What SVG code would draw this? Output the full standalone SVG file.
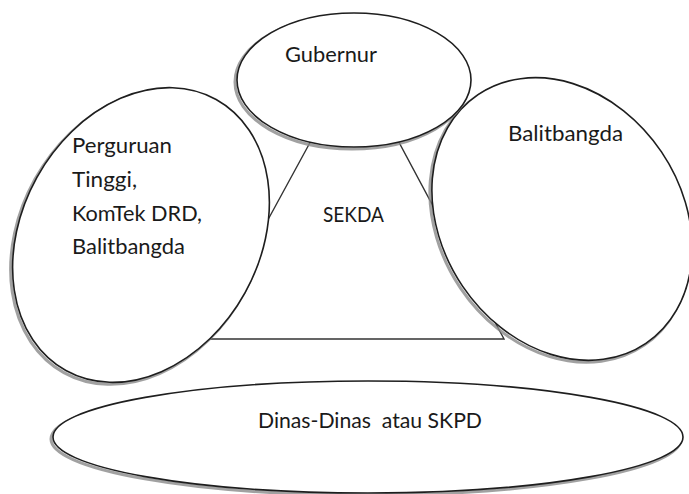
<svg xmlns="http://www.w3.org/2000/svg" width="689" height="494" viewBox="0 0 689 494">
<style>
.shape{fill:#fff;stroke:#1e1e1e;stroke-width:1.6}
.shadow{fill:none;stroke:#8a8a8a;stroke-width:3;opacity:0.8}
.tri{fill:#fff;stroke:#333;stroke-width:1.4}
.lbl{font-family:Lato,"Open Sans","Liberation Sans",sans-serif;font-size:21px;fill:#1a1a1a}
</style>
<rect width="689" height="494" fill="#fff"/>
<g id="sekda">
<polygon class="tri" points="355,60 203,339 504,339"/>
<text class="lbl" x="323" y="222" textLength="61" lengthAdjust="spacingAndGlyphs">SEKDA</text>
</g>
<g id="perguruan">
<ellipse class="shadow" cx="139" cy="237" rx="119" ry="155" transform="rotate(29 139 237)"/>
<ellipse class="shape" cx="141" cy="235" rx="119" ry="155" transform="rotate(29 141 235)"/>
<text class="lbl" x="72" y="153" textLength="100" lengthAdjust="spacingAndGlyphs">Perguruan</text>
<text class="lbl" x="72" y="187" textLength="65" lengthAdjust="spacingAndGlyphs">Tinggi,</text>
<text class="lbl" x="72" y="221" textLength="130" lengthAdjust="spacingAndGlyphs">KomTek DRD,</text>
<text class="lbl" x="72" y="254" textLength="113" lengthAdjust="spacingAndGlyphs">Balitbangda</text>
</g>
<g id="balitbangda">
<ellipse class="shadow" cx="560" cy="221" rx="120" ry="150" transform="rotate(-34 560 221)"/>
<ellipse class="shape" cx="562" cy="219" rx="120" ry="150" transform="rotate(-34 562 219)"/>
<text class="lbl" x="508" y="141" textLength="115" lengthAdjust="spacingAndGlyphs">Balitbangda</text>
</g>
<g id="gubernur">
<ellipse class="shadow" cx="352" cy="82" rx="117" ry="67"/>
<ellipse class="shape" cx="354" cy="80" rx="117" ry="67"/>
<text class="lbl" x="285" y="62" textLength="92" lengthAdjust="spacingAndGlyphs">Gubernur</text>
</g>
<g id="dinas">
<ellipse class="shadow" cx="366" cy="439" rx="315" ry="56"/>
<ellipse class="shape" cx="368" cy="437" rx="315" ry="56"/>
<text class="lbl" x="258" y="428" textLength="224" lengthAdjust="spacingAndGlyphs" xml:space="preserve">Dinas-Dinas  atau SKPD</text>
</g>
<g id="connectors"/>
</svg>
